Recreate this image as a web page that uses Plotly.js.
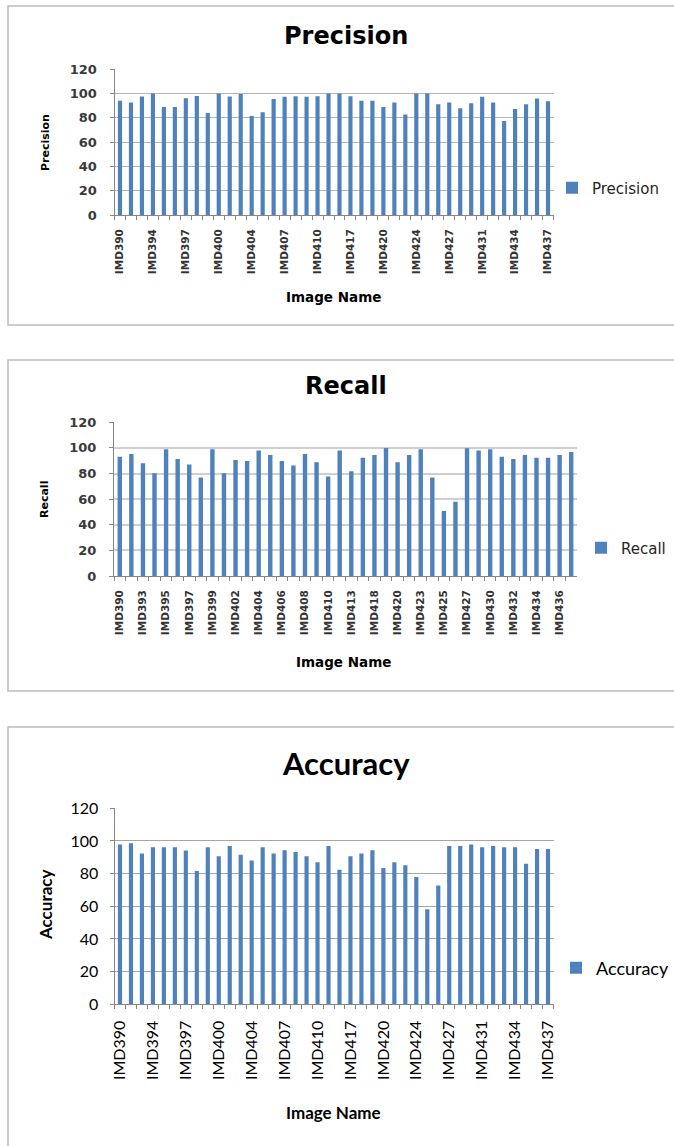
<!DOCTYPE html>
<html>
<head>
<meta charset="utf-8">
<script src="https://cdn.plot.ly/plotly-3.0.1.min.js"></script>
<style>
  html, body { margin: 0; padding: 0; background: #ffffff; overflow: hidden; }
  #chart { width: 674px; height: 1146px; }
</style>
</head>
<body>
<div id="chart"></div>
<script>
const categories = ['IMD390','IMD391','IMD393','IMD394','IMD395','IMD396','IMD397','IMD398','IMD399','IMD400',
  'IMD402','IMD403','IMD404','IMD405','IMD406','IMD407','IMD408','IMD409','IMD410','IMD411',
  'IMD413','IMD417','IMD418','IMD419','IMD420','IMD421','IMD423','IMD424','IMD425','IMD426',
  'IMD427','IMD428','IMD430','IMD431','IMD432','IMD433','IMD434','IMD435','IMD436','IMD437'];

const precision = [94.2,92.6,97.5,100,89,89,96.2,98,84,100,97.5,99.7,81.6,84.6,95.6,97.3,97.8,97.3,97.8,100,
  100,97.8,94,94,89,92.6,82.7,100,100,91.2,92.6,88,92,97.3,92.6,77.5,87.4,91.2,95.9,93.7];
const recall = [93.2,95.3,88,80.2,99,91.4,87,77,99,80.2,90.6,89.8,98,94.5,89.8,86.2,95.3,88.8,77.6,98,
  81.8,92.4,94.5,100,88.8,94.5,99,77,50.8,58,99.7,98,99,93.2,91.4,94.5,92.4,92.4,94.5,96.9];
const accuracy = [97.8,98.6,92.4,96.1,96.1,96.1,94.1,81.6,96.1,90.6,96.9,91.6,88,96.1,92.4,94.3,93.3,90.6,86.9,96.9,
  82.4,90.6,92.4,94.3,83.5,86.9,85.1,78,58.2,72.7,96.9,96.9,97.8,96.1,96.9,96.1,96.1,86.1,95.1,95.1];

const precisionTickLabels = ['IMD390','IMD394','IMD397','IMD400','IMD404','IMD407','IMD410','IMD417','IMD420','IMD424','IMD427','IMD431','IMD434','IMD437'];
const recallTickLabels = ['IMD390','IMD393','IMD395','IMD397','IMD399','IMD402','IMD404','IMD406','IMD408','IMD410','IMD413','IMD418','IMD420','IMD423','IMD425','IMD427','IMD430','IMD432','IMD434','IMD436'];
const accuracyTickLabels = precisionTickLabels;

const yTicks = [0, 20, 40, 60, 80, 100, 120];

const W = 674, H = 1146;
const px = v => v / W;
const py = v => 1 - v / H;

const BAR = '#4f81bd';
const WIDE = 'DejaVu Sans, sans-serif';
const CAL = 'Lato, sans-serif';

function xax(domain, shown, font, standoff) {
  return {
    type: 'category', domain: domain,
    categoryorder: 'array', categoryarray: categories,
    range: [-0.5, categories.length - 0.5],
    tickmode: 'array', tickvals: categories,
    ticktext: categories.map(c => shown.includes(c) ? c : ''),
    tickangle: -90, tickson: 'boundaries',
    ticks: 'outside', ticklen: 4, tickcolor: '#868686', tickwidth: 1,
    showline: true, linecolor: '#868686', linewidth: 1,
    showgrid: false, zeroline: false,
    tickfont: font, ticklabelstandoff: standoff, automargin: false, fixedrange: true
  };
}
function yax(domain, anchor, font, gridcolor, gridwidth, standoff) {
  return {
    domain: domain, anchor: anchor, range: [0, 120],
    tickmode: 'array', tickvals: yTicks,
    ticks: 'outside', ticklen: 4, tickcolor: '#868686',
    showline: true, linecolor: '#868686', linewidth: 1,
    showgrid: true, gridcolor: gridcolor, gridwidth: gridwidth,
    zeroline: false, tickfont: font, ticklabelstandoff: standoff, automargin: false, fixedrange: true
  };
}

const traces = [
  { type: 'bar', name: 'Precision', x: categories, y: precision, marker: { color: BAR },
    xaxis: 'x', yaxis: 'y', legend: 'legend', hoverinfo: 'x+y' },
  { type: 'bar', name: 'Recall', x: categories, y: recall, marker: { color: BAR },
    xaxis: 'x2', yaxis: 'y2', legend: 'legend2', hoverinfo: 'x+y' },
  { type: 'bar', name: 'Accuracy', x: categories, y: accuracy, marker: { color: BAR },
    xaxis: 'x3', yaxis: 'y3', legend: 'legend3', hoverinfo: 'x+y' }
];

const f1tick = { family: WIDE, size: 10.5, weight: 'bold', color: '#333333' };
const f1y = { family: WIDE, size: 13, weight: 'bold', color: '#3a3a3a' };
const f3tick = { family: CAL, size: 16, color: '#000000' };

const layout = {
  width: W, height: H,
  margin: { l: 0, r: 0, t: 0, b: 0 },
  paper_bgcolor: '#ffffff', plot_bgcolor: '#ffffff',
  bargap: 0.62,
  showlegend: true,
  xaxis: Object.assign(xax([px(114.5), px(553.5)], precisionTickLabels, f1tick, 9), { anchor: 'y' }),
  yaxis: yax([py(215), py(69.3)], 'x', f1y, '#b4b4b4', 1, 10),
  xaxis2: Object.assign(xax([px(114), px(577)], recallTickLabels, f1tick, 9), { anchor: 'y2' }),
  yaxis2: yax([py(576), py(422.3)], 'x2', f1y, '#cfcfcf', 2, 10),
  xaxis3: Object.assign(xax([px(114.5), px(553.5)], accuracyTickLabels, f3tick, 9), { anchor: 'y3' }),
  yaxis3: yax([py(1004.3), py(808.3)], 'x3', { family: CAL, size: 16, color: '#000000' }, '#a6a6a6', 1, 8),
  legend: { x: px(552), y: py(188), xanchor: 'left', yanchor: 'middle', bgcolor: 'rgba(0,0,0,0)',
    font: { family: WIDE, size: 15, color: '#262626' } },
  legend2: { x: px(581), y: py(548), xanchor: 'left', yanchor: 'middle', bgcolor: 'rgba(0,0,0,0)',
    font: { family: WIDE, size: 15, color: '#262626' } },
  legend3: { x: px(556), y: py(968), xanchor: 'left', yanchor: 'middle', bgcolor: 'rgba(0,0,0,0)',
    font: { family: CAL, size: 18, color: '#000000' } },
  shapes: [
    { type: 'rect', xref: 'paper', yref: 'paper', x0: px(8), x1: px(690), y0: py(325), y1: py(6),
      line: { color: '#bcbcbc', width: 1.5 }, fillcolor: 'rgba(0,0,0,0)', layer: 'below' },
    { type: 'rect', xref: 'paper', yref: 'paper', x0: px(8), x1: px(690), y0: py(691), y1: py(360),
      line: { color: '#bcbcbc', width: 1.5 }, fillcolor: 'rgba(0,0,0,0)', layer: 'below' },
    { type: 'rect', xref: 'paper', yref: 'paper', x0: px(8), x1: px(690), y0: py(1160), y1: py(727),
      line: { color: '#bcbcbc', width: 1.5 }, fillcolor: 'rgba(0,0,0,0)', layer: 'below' }
  ],
  annotations: [
    { text: '<b>Precision</b>', xref: 'paper', yref: 'paper', x: px(346), y: py(36), showarrow: false,
      xanchor: 'center', yanchor: 'middle', font: { family: WIDE, size: 24, color: '#000' } },
    { text: '<b>Precision</b>', xref: 'paper', yref: 'paper', x: px(45), y: py(143), showarrow: false,
      textangle: -90, xanchor: 'center', yanchor: 'middle', font: { family: WIDE, size: 11, color: '#000' } },
    { text: '<b>Image Name</b>', xref: 'paper', yref: 'paper', x: px(333), y: py(297), showarrow: false,
      xanchor: 'center', yanchor: 'middle', font: { family: WIDE, size: 13.5, color: '#000' } },

    { text: '<b>Recall</b>', xref: 'paper', yref: 'paper', x: px(346), y: py(386), showarrow: false,
      xanchor: 'center', yanchor: 'middle', font: { family: WIDE, size: 24, color: '#000' } },
    { text: '<b>Recall</b>', xref: 'paper', yref: 'paper', x: px(44), y: py(500), showarrow: false,
      textangle: -90, xanchor: 'center', yanchor: 'middle', font: { family: WIDE, size: 11, color: '#000' } },
    { text: '<b>Image Name</b>', xref: 'paper', yref: 'paper', x: px(343), y: py(662), showarrow: false,
      xanchor: 'center', yanchor: 'middle', font: { family: WIDE, size: 13.5, color: '#000' } },

    { text: '<b>Accuracy</b>', xref: 'paper', yref: 'paper', x: px(346), y: py(763), showarrow: false,
      xanchor: 'center', yanchor: 'middle', font: { family: CAL, size: 31, color: '#000' } },
    { text: '<b>Accuracy</b>', xref: 'paper', yref: 'paper', x: px(45), y: py(905), showarrow: false,
      textangle: -90, xanchor: 'center', yanchor: 'middle', font: { family: CAL, size: 17, color: '#000' } },
    { text: '<b>Image Name</b>', xref: 'paper', yref: 'paper', x: px(333), y: py(1112), showarrow: false,
      xanchor: 'center', yanchor: 'middle', font: { family: CAL, size: 17, color: '#000' } }
  ]
};

Plotly.newPlot('chart', traces, layout, { displayModeBar: false, staticPlot: true });
</script>
</body>
</html>
